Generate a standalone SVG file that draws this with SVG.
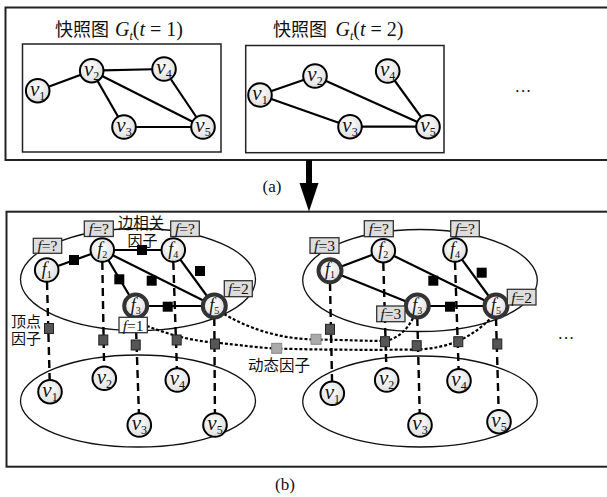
<svg xmlns="http://www.w3.org/2000/svg" width="607" height="497" viewBox="0 0 607 497">
<style>
.box{fill:none;stroke:#222;stroke-width:2}
.ibox{fill:#fff;stroke:#222;stroke-width:1.5}
.ell{fill:none;stroke:#111;stroke-width:1.3}
.edge{stroke:#000;stroke-width:2.2;fill:none}
.vdash{stroke:#000;stroke-width:2.4;stroke-dasharray:8,5;fill:none}
.dot{stroke:#000;stroke-width:2.2;stroke-dasharray:3,2;fill:none}
.nd{fill:url(#g);stroke:#000;stroke-width:2}
.ndk{fill:url(#g);stroke:#333;stroke-width:4}
.ef{fill:#000}
.vf{fill:#555;stroke:#222;stroke-width:1}
.df{fill:#aaa;stroke:#888;stroke-width:1}
.lb{fill:#ddd;stroke:#333;stroke-width:1.3}
.lbw{fill:#fff;stroke:#333;stroke-width:1.3}
text{font-family:"Liberation Serif","Noto Sans CJK SC",serif;fill:#111}
.nt{font-size:21px;text-anchor:middle}
.ft{font-size:18px;text-anchor:middle}
.lt{font-size:15.5px;text-anchor:middle}
.cn{font-size:15px}
.it{font-style:italic}
.sb{font-size:12px;font-style:normal}
.sf{font-size:10px;font-style:normal}
</style>
<defs>
<radialGradient id="g" cx="0.45" cy="0.4" r="0.6"><stop offset="0" stop-color="#fff"/><stop offset="1" stop-color="#dedede"/></radialGradient>
</defs>

<g id="frame-a">
<rect class="box" x="5.5" y="7.5" width="612" height="152.5"/>
<rect class="ibox" x="22.5" y="44" width="198.5" height="108"/>
<rect class="ibox" x="245.7" y="45.5" width="198.3" height="107.2"/>
<text x="55" y="36" style="font-size:18px">快照图</text>
<text x="115" y="36" style="font-size:20px"><tspan class="it">G</tspan><tspan class="it" font-size="12" dy="4">t</tspan><tspan dy="-4">(</tspan><tspan class="it">t</tspan> = 1)</text>
<text x="273" y="36" style="font-size:18px">快照图</text>
<text x="335.5" y="36" style="font-size:20px"><tspan class="it">G</tspan><tspan class="it" font-size="12" dy="4">t</tspan><tspan dy="-4">(</tspan><tspan class="it">t</tspan> = 2)</text>
<text x="523" y="97" style="font-size:17px;text-anchor:middle">···</text>
</g>
<g id="frame-b">
<rect class="box" x="6.5" y="211.7" width="612" height="255"/>
<ellipse class="ell" cx="138" cy="279.5" rx="117.5" ry="51"/>
<ellipse class="ell" cx="138" cy="401" rx="117.5" ry="46"/>
<ellipse class="ell" cx="420" cy="280.5" rx="117.3" ry="51"/>
<ellipse class="ell" cx="420" cy="401.5" rx="117.3" ry="45.5"/>
<text x="566" y="344" style="font-size:17px;text-anchor:middle">···</text>
</g>

<g id="connectors">
<line class="edge" x1="37.7" y1="90.7" x2="91.7" y2="70.7"/>
<line class="edge" x1="91.7" y1="70.7" x2="164" y2="69"/>
<line class="edge" x1="91.7" y1="70.7" x2="124" y2="127"/>
<line class="edge" x1="91.7" y1="70.7" x2="203" y2="127"/>
<line class="edge" x1="124" y1="127" x2="203" y2="127"/>
<line class="edge" x1="164" y1="69" x2="203" y2="127"/>
<line class="edge" x1="260" y1="95" x2="315" y2="76"/>
<line class="edge" x1="260" y1="95" x2="350" y2="126.7"/>
<line class="edge" x1="315" y1="76" x2="428" y2="126.7"/>
<line class="edge" x1="350" y1="126.7" x2="428" y2="126.7"/>
<line class="edge" x1="387.7" y1="71" x2="428" y2="126.7"/>
<line x1="309" y1="160" x2="309" y2="186" stroke="#000" stroke-width="6"/>
<polygon points="299.5,183 318.5,183 309,211.5" fill="#000"/>
<line class="edge" x1="46.7" y1="270" x2="102.3" y2="250"/>
<line class="edge" x1="102.3" y1="250" x2="173.3" y2="250"/>
<line class="edge" x1="102.3" y1="250" x2="135.7" y2="306"/>
<line class="edge" x1="102.3" y1="250" x2="214.3" y2="306"/>
<line class="edge" x1="173.3" y1="250" x2="214.3" y2="306"/>
<line class="edge" x1="135.7" y1="306" x2="214.3" y2="306"/>
<line class="vdash" x1="47" y1="282" x2="50" y2="391.7"/>
<line class="vdash" x1="102.3" y1="262" x2="104.3" y2="378.3"/>
<line class="vdash" x1="135.7" y1="318" x2="139.3" y2="425"/>
<line class="vdash" x1="173.3" y1="262" x2="177.3" y2="380"/>
<line class="vdash" x1="214.3" y1="318" x2="215" y2="425"/>
<line class="edge" x1="330" y1="270.7" x2="383.3" y2="250.7"/>
<line class="edge" x1="330" y1="270.7" x2="417.3" y2="306"/>
<line class="edge" x1="383.3" y1="250.7" x2="496" y2="306"/>
<line class="edge" x1="455" y1="250" x2="496" y2="306"/>
<line class="edge" x1="417.3" y1="306" x2="496" y2="306"/>
<line class="vdash" x1="330" y1="283" x2="332.3" y2="393.3"/>
<line class="vdash" x1="383.3" y1="263" x2="386.7" y2="380"/>
<line class="vdash" x1="417.3" y1="318" x2="420" y2="425"/>
<line class="vdash" x1="455" y1="262" x2="459" y2="380.7"/>
<line class="vdash" x1="496" y1="318" x2="499" y2="421.7"/>
<path class="dot" d="M224,314 C255,332 285,339 316,339.5 C345,340 370,341 386,341 C398,338 407,330 413,318"/>
<path class="dot" d="M147,326 C165,333 190,341 215,342.5 C240,345 260,348 277,348.5 C320,350 380,350 418,349.5 C445,348 468,341 491,318"/>
</g>

<g id="edge-factors">
<rect class="ef" x="69" y="255" width="10" height="10"/>
<rect class="ef" x="137" y="245" width="10" height="10"/>
<rect class="ef" x="114.3" y="274.3" width="10" height="10"/>
<rect class="ef" x="146.7" y="275.7" width="10" height="10"/>
<rect class="ef" x="195" y="266" width="10" height="10"/>
<rect class="ef" x="162.7" y="301.7" width="10" height="10"/>
<rect class="ef" x="428.3" y="275.7" width="10" height="10"/>
<rect class="ef" x="476.7" y="267.7" width="10" height="10"/>
<rect class="ef" x="445" y="301.7" width="10" height="10"/>
</g>
<g id="vertex-factors">
<rect class="vf" x="44.5" y="323.5" width="9" height="10"/>
<rect class="vf" x="98.8" y="335" width="9" height="10"/>
<rect class="vf" x="131.2" y="340" width="9" height="10"/>
<rect class="vf" x="172.2" y="335" width="9" height="10"/>
<rect class="vf" x="210.5" y="339" width="9" height="10"/>
<rect class="vf" x="325.5" y="324.3" width="9" height="10"/>
<rect class="vf" x="380.5" y="336.7" width="9" height="10"/>
<rect class="vf" x="412.2" y="340.7" width="9" height="10"/>
<rect class="vf" x="453.8" y="336.7" width="9" height="10"/>
<rect class="vf" x="492.8" y="339" width="9" height="10"/>
</g>
<g id="dynamic-factors">
<rect class="df" x="271.7" y="343.3" width="10" height="10"/>
<rect class="df" x="311" y="334.3" width="10" height="10"/>
</g>

<g id="s1-v1"><circle class="nd" cx="37.7" cy="90.7" r="11.8"/><text class="nt" x="37.7" y="96"><tspan class="it">v</tspan><tspan class="sb" dy="4">1</tspan></text></g>
<g id="s1-v2"><circle class="nd" cx="91.7" cy="70.7" r="11.8"/><text class="nt" x="91.7" y="76"><tspan class="it">v</tspan><tspan class="sb" dy="4">2</tspan></text></g>
<g id="s1-v4"><circle class="nd" cx="164" cy="69" r="11.8"/><text class="nt" x="164" y="74.3"><tspan class="it">v</tspan><tspan class="sb" dy="4">4</tspan></text></g>
<g id="s1-v3"><circle class="nd" cx="124" cy="127" r="11.8"/><text class="nt" x="124" y="132.3"><tspan class="it">v</tspan><tspan class="sb" dy="4">3</tspan></text></g>
<g id="s1-v5"><circle class="nd" cx="203" cy="127" r="11.8"/><text class="nt" x="203" y="132.3"><tspan class="it">v</tspan><tspan class="sb" dy="4">5</tspan></text></g>
<g id="s2-v1"><circle class="nd" cx="260" cy="95" r="11.8"/><text class="nt" x="260" y="100.3"><tspan class="it">v</tspan><tspan class="sb" dy="4">1</tspan></text></g>
<g id="s2-v2"><circle class="nd" cx="315" cy="76" r="11.8"/><text class="nt" x="315" y="81.3"><tspan class="it">v</tspan><tspan class="sb" dy="4">2</tspan></text></g>
<g id="s2-v4"><circle class="nd" cx="387.7" cy="71" r="11.8"/><text class="nt" x="387.7" y="76.3"><tspan class="it">v</tspan><tspan class="sb" dy="4">4</tspan></text></g>
<g id="s2-v3"><circle class="nd" cx="350" cy="126.7" r="11.8"/><text class="nt" x="350" y="132"><tspan class="it">v</tspan><tspan class="sb" dy="4">3</tspan></text></g>
<g id="s2-v5"><circle class="nd" cx="428" cy="126.7" r="11.8"/><text class="nt" x="428" y="132"><tspan class="it">v</tspan><tspan class="sb" dy="4">5</tspan></text></g>

<g id="b1-f1"><circle class="nd" cx="46.7" cy="270" r="11.8"/><text class="ft" x="46.7" y="274.5"><tspan class="it">f</tspan><tspan class="sf" dy="3">1</tspan></text></g>
<g id="b1-f2"><circle class="nd" cx="102.3" cy="250" r="11.8"/><text class="ft" x="102.3" y="254.5"><tspan class="it">f</tspan><tspan class="sf" dy="3">2</tspan></text></g>
<g id="b1-f4"><circle class="nd" cx="173.3" cy="250" r="11.8"/><text class="ft" x="173.3" y="254.5"><tspan class="it">f</tspan><tspan class="sf" dy="3">4</tspan></text></g>
<g id="b1-f3"><circle class="ndk" cx="135.7" cy="306" r="11.5"/><text class="ft" x="135.7" y="310.5"><tspan class="it">f</tspan><tspan class="sf" dy="3">3</tspan></text></g>
<g id="b1-f5"><circle class="ndk" cx="214.3" cy="306" r="11.5"/><text class="ft" x="214.3" y="310.5"><tspan class="it">f</tspan><tspan class="sf" dy="3">5</tspan></text></g>
<g id="b1-v1"><circle class="nd" cx="50" cy="391.7" r="11.8"/><text class="nt" x="50" y="397"><tspan class="it">v</tspan><tspan class="sb" dy="4">1</tspan></text></g>
<g id="b1-v2"><circle class="nd" cx="104.3" cy="378.3" r="11.8"/><text class="nt" x="104.3" y="383.6"><tspan class="it">v</tspan><tspan class="sb" dy="4">2</tspan></text></g>
<g id="b1-v4"><circle class="nd" cx="177.3" cy="380" r="11.8"/><text class="nt" x="177.3" y="385.3"><tspan class="it">v</tspan><tspan class="sb" dy="4">4</tspan></text></g>
<g id="b1-v3"><circle class="nd" cx="139.3" cy="425" r="11.8"/><text class="nt" x="139.3" y="430.3"><tspan class="it">v</tspan><tspan class="sb" dy="4">3</tspan></text></g>
<g id="b1-v5"><circle class="nd" cx="215" cy="425" r="11.8"/><text class="nt" x="215" y="430.3"><tspan class="it">v</tspan><tspan class="sb" dy="4">5</tspan></text></g>

<g id="b2-f1"><circle class="ndk" cx="330" cy="270.7" r="11.5"/><text class="ft" x="330" y="275.2"><tspan class="it">f</tspan><tspan class="sf" dy="3">1</tspan></text></g>
<g id="b2-f2"><circle class="nd" cx="383.3" cy="250.7" r="11.8"/><text class="ft" x="383.3" y="255.2"><tspan class="it">f</tspan><tspan class="sf" dy="3">2</tspan></text></g>
<g id="b2-f4"><circle class="nd" cx="455" cy="250" r="11.8"/><text class="ft" x="455" y="254.5"><tspan class="it">f</tspan><tspan class="sf" dy="3">4</tspan></text></g>
<g id="b2-f3"><circle class="ndk" cx="417.3" cy="306" r="11.5"/><text class="ft" x="417.3" y="310.5"><tspan class="it">f</tspan><tspan class="sf" dy="3">3</tspan></text></g>
<g id="b2-f5"><circle class="ndk" cx="496" cy="306" r="11.5"/><text class="ft" x="496" y="310.5"><tspan class="it">f</tspan><tspan class="sf" dy="3">5</tspan></text></g>
<g id="b2-v1"><circle class="nd" cx="332.3" cy="393.3" r="11.8"/><text class="nt" x="332.3" y="398.6"><tspan class="it">v</tspan><tspan class="sb" dy="4">1</tspan></text></g>
<g id="b2-v2"><circle class="nd" cx="386.7" cy="380" r="11.8"/><text class="nt" x="386.7" y="385.3"><tspan class="it">v</tspan><tspan class="sb" dy="4">2</tspan></text></g>
<g id="b2-v4"><circle class="nd" cx="459" cy="380.7" r="11.8"/><text class="nt" x="459" y="386"><tspan class="it">v</tspan><tspan class="sb" dy="4">4</tspan></text></g>
<g id="b2-v3"><circle class="nd" cx="420" cy="425" r="11.8"/><text class="nt" x="420" y="430.3"><tspan class="it">v</tspan><tspan class="sb" dy="4">3</tspan></text></g>
<g id="b2-v5"><circle class="nd" cx="499" cy="421.7" r="11.8"/><text class="nt" x="499" y="427"><tspan class="it">v</tspan><tspan class="sb" dy="4">5</tspan></text></g>

<g id="labels">
<rect class="lb" x="33.3" y="238.3" width="28.4" height="15"/><text class="lt" x="47.5" y="251.3"><tspan class="it">f</tspan>=?</text>
<rect class="lb" x="84.3" y="221" width="29" height="15.5"/><text class="lt" x="98.8" y="234.3"><tspan class="it">f</tspan>=?</text>
<rect class="lb" x="170.7" y="221" width="28.6" height="15.5"/><text class="lt" x="185" y="234.3"><tspan class="it">f</tspan>=?</text>
<rect class="lb" x="224.3" y="280.7" width="28" height="16"/><text class="lt" x="238.3" y="294.3"><tspan class="it">f</tspan>=2</text>
<rect class="lbw" x="119" y="317.3" width="28.3" height="15.4"/><text class="lt" x="133.2" y="330.5"><tspan class="it">f</tspan>=1</text>
<rect class="lb" x="310" y="237.7" width="29" height="15.6"/><text class="lt" x="324.5" y="250.8"><tspan class="it">f</tspan>=3</text>
<rect class="lb" x="364.3" y="220.7" width="29" height="16"/><text class="lt" x="378.8" y="234.3"><tspan class="it">f</tspan>=?</text>
<rect class="lb" x="450.7" y="220.7" width="28.6" height="16"/><text class="lt" x="465" y="234.3"><tspan class="it">f</tspan>=?</text>
<rect class="lb" x="507.3" y="289.3" width="28.7" height="15.7"/><text class="lt" x="521.7" y="302.6"><tspan class="it">f</tspan>=2</text>
<rect class="lb" x="376.7" y="306" width="28.3" height="15.7"/><text class="lt" x="390.8" y="319.3"><tspan class="it">f</tspan>=3</text>
</g>

<g id="captions">
<text class="cn" x="141" y="228.5" text-anchor="middle" style="font-size:15.5px">边相关</text>
<text class="cn" x="142.5" y="245.5" text-anchor="middle">因子</text>
<text class="cn" x="11" y="326.5">顶点</text>
<text class="cn" x="11" y="343.5">因子</text>
<text class="cn" x="248" y="371" style="font-size:15.5px">动态因子</text>
<text x="272" y="192" style="font-size:17px;text-anchor:middle">(a)</text>
<text x="285" y="490" style="font-size:17px;text-anchor:middle">(b)</text>
</g>
</svg>
